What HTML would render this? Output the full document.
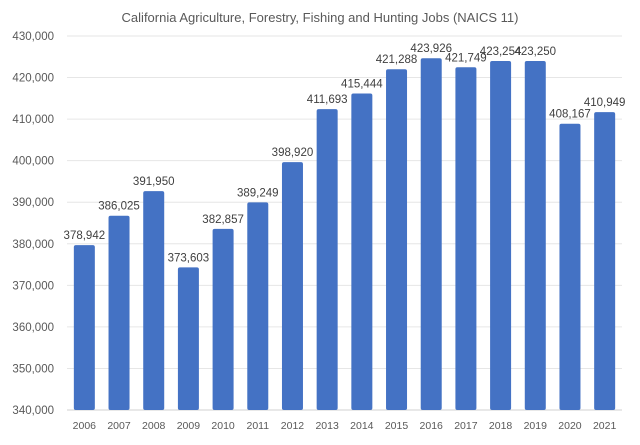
<!DOCTYPE html>
<html><head><meta charset="utf-8"><style>
body{margin:0;background:#fff;}
svg{display:block;font-family:"Liberation Sans",sans-serif;}
</style></head><body>
<svg id="chart" width="640" height="445">
<text x="320" y="22" text-anchor="middle" font-size="13" fill="#595959">California Agriculture, Forestry, Fishing and Hunting Jobs (NAICS 11)</text>
<g id="grid"></g><g id="bars"></g><g id="labels"></g>
</svg>
<script>
const categories=["2006","2007","2008","2009","2010","2011","2012","2013","2014","2015","2016","2017","2018","2019","2020","2021"];
const jobs=[378942,386025,391950,373603,382857,389249,398920,411693,415444,421288,423926,421749,423254,423250,408167,410949];
const valueLabels=["378,942","386,025","391,950","373,603","382,857","389,249","398,920","411,693","415,444","421,288","423,926","421,749","423,254","423,250","408,167","410,949"];
const yTicks=[340000,350000,360000,370000,380000,390000,400000,410000,420000,430000];
const yTickLabels=["340,000","350,000","360,000","370,000","380,000","390,000","400,000","410,000","420,000","430,000"];
const NS="http://www.w3.org/2000/svg";
const x0=67,x1=622,yMin=340000,yMax=430000,py0=410,py1=36;
const y=v=>py0-(v-yMin)/(yMax-yMin)*(py0-py1);
const step=(x1-x0)/categories.length;
const xc=i=>x0+step*(i+0.5);
function mk(t,a,p){const e=document.createElementNS(NS,t);for(const k in a)e.setAttribute(k,a[k]);p.appendChild(e);return e;}
const g=document.getElementById('grid'),b=document.getElementById('bars'),l=document.getElementById('labels');
yTicks.forEach((t,i)=>{
 const ln=mk('line',{x1:x0,x2:x1,y1:y(t),y2:y(t),stroke:i==0?'#d0d0d0':'#e6e6e6','stroke-width':1},g);
 
 
 const tx=mk('text',{x:54,y:y(t)+4,'text-anchor':'end','font-size':11.5,fill:'#595959'},g);
 tx.textContent=yTickLabels[i];
 
 
});
categories.forEach((c,i)=>{
 const bw=21,top=y(jobs[i])-3;
 const r=mk('rect',{x:xc(i)-bw/2,y:top,width:bw,height:py0-top,fill:'#4472c4',rx:2},b);
 
 
 const vl=mk('text',{x:xc(i),y:top-6,'text-anchor':'middle','font-size':11.5,fill:'#404040'},l);
 vl.textContent=valueLabels[i];
 
 
 const xl=mk('text',{x:xc(i),y:429,'text-anchor':'middle','font-size':10.5,fill:'#595959'},l);
 xl.textContent=c;
 
 
});
</script>
</body></html>
